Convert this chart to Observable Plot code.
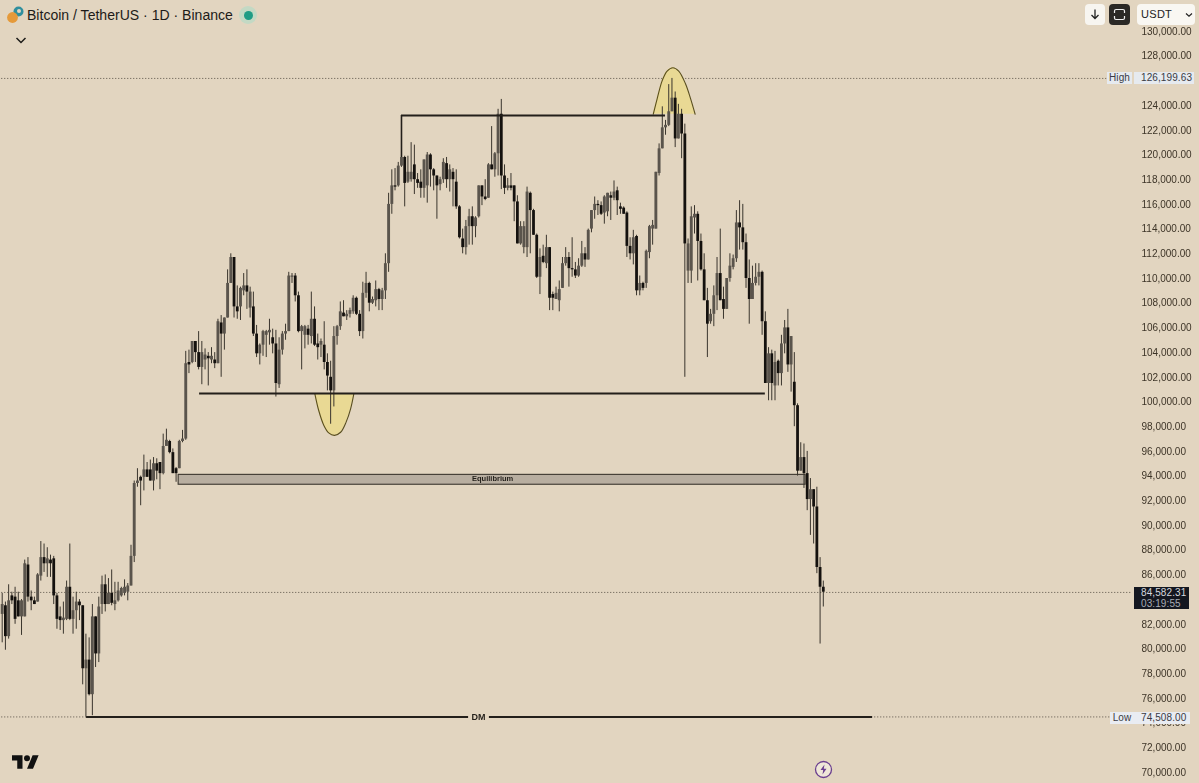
<!DOCTYPE html>
<html><head><meta charset="utf-8">
<script src="https://cdn.jsdelivr.net/npm/d3@7"></script>
<script src="https://cdn.jsdelivr.net/npm/@observablehq/plot@0.6"></script>
<style>
html,body{margin:0;padding:0;background:#e2d5c0;width:1199px;height:783px;overflow:hidden;font-family:"Liberation Sans",sans-serif}
#wrap{position:relative;width:1199px;height:783px}
#chart svg{display:block;filter:blur(.4px)}
.ui{position:absolute;box-sizing:border-box}
.tag{font-size:10px;line-height:12px;height:12px;color:#3a3a44;letter-spacing:.1px}
</style></head><body>
<div id="wrap"><div id="chart"></div>
<svg class="ui" style="left:6px;top:5px" width="20" height="20" viewBox="0 0 20 20"><circle cx="12.5" cy="6.5" r="5" fill="#2f8f9e"/><circle cx="6.5" cy="12.5" r="5.4" fill="#e59a3a"/><circle cx="13" cy="6" r="2" fill="#e2d5c0"/></svg>
<div class="ui" style="left:27px;top:6px;font-size:14.05px;line-height:18px;color:#1d1b18;white-space:nowrap">Bitcoin / TetherUS · 1D · Binance</div>
<div class="ui" style="left:239px;top:6px;width:18px;height:18px;border-radius:9px;background:#c3d9c4"></div>
<div class="ui" style="left:244px;top:11px;width:9px;height:9px;border-radius:5px;background:#1f9c85"></div>
<svg class="ui" style="left:15px;top:36px" width="12" height="9"><path d="M1.5 2 L6 6.5 L10.5 2" fill="none" stroke="#1d1b18" stroke-width="1.5"/></svg>
<div class="ui" style="left:1085px;top:4px;width:20px;height:21px;border-radius:4px;background:#f7f5f0"></div>
<svg class="ui" style="left:1089px;top:8px" width="12" height="13"><path d="M6 1.5V10M2.5 7L6 10.5L9.5 7" fill="none" stroke="#222" stroke-width="1.3"/></svg>
<div class="ui" style="left:1109px;top:4px;width:21px;height:21px;border-radius:4px;background:#2b2926"></div>
<svg class="ui" style="left:1113px;top:8px" width="13" height="13"><path d="M1.5 5V3Q1.5 1.5 3 1.5H10Q11.500 1.5 11.500 3V5M1.5 8V10Q1.5 11.500 3 11.500H10Q11.500 11.500 11.500 10V8" fill="none" stroke="#eee" stroke-width="1.2"/></svg>
<div class="ui" style="left:1137px;top:4px;width:58px;height:21px;border-radius:4px;background:#f9f7f2;font-size:11px;line-height:21px;padding-left:4px;color:#222;letter-spacing:.3px">USDT</div>
<svg class="ui" style="left:1185px;top:12px" width="8" height="6"><path d="M1 1.500L4 4.200L7 1.500" fill="none" stroke="#222" stroke-width="1.2"/></svg>
<div class="ui tag" style="left:1107px;top:72px;width:25px;background:#e6eaef;text-align:center">High</div>
<div class="ui tag" style="left:1134px;top:72px;width:60px;background:#e6eaef;padding-left:7px">126,199.63</div>
<div class="ui tag" style="left:1110px;top:712px;width:24px;background:#e9ecf2;text-align:center">Low</div>
<div class="ui tag" style="left:1134px;top:712px;width:56px;background:#e9ecf2;padding-left:7px">74,508.00</div>
<div class="ui" style="left:1134px;top:587px;width:55px;height:22px;background:#141720;color:#d5d8de;font-size:10px;line-height:11px;padding-left:7px;letter-spacing:.1px">84,582.31<br><span style="color:#a8acb5">03:19:55</span></div>
<svg class="ui" style="left:12px;top:752px" width="27" height="17" viewBox="0 0 36 22"><path d="M14 22H7V11H0V4h14v18zM28 22h-8l7.500-18h8L28 22z" fill="#111"/><circle cx="20" cy="8" r="4" fill="#111"/></svg>
<svg class="ui" style="left:814px;top:760px" width="19" height="19" viewBox="0 0 19 19"><circle cx="9.500" cy="9.500" r="8" fill="#efe7d8" stroke="#6b3f8f" stroke-width="1.3"/><path d="M10.500 4.500L6.500 10H9.200L8.500 14.500L12.500 8.700H9.800z" fill="#6b3f8f"/></svg>
</div>
<script>
const highs=[84.5,83.8,85.2,84.6,85,84.6,84,87.2,87.4,84.7,
84.2,86.1,88.7,88.5,88.2,87.6,87.5,84.5,83.4,83.8,
85.5,88.5,84.2,84.6,84,83.5,81.2,80.9,83.6,82.6,
84.2,85.9,86,85.7,86.4,85.4,85.4,85,85.6,85.3,
88.4,93.6,94.6,94,95.7,95.1,95.3,95.5,95.4,95.1,
97.4,97.8,96.9,96.2,94.7,96.9,97.7,104.1,104.2,104.9,
104.9,105.7,104.9,104.3,104,104.4,104,106.7,107,106.8,
110.7,112,111.7,109.4,109.3,110.4,110.7,109.3,108.9,106.2,
104.7,105.8,105.8,106.7,105.9,105.8,105.2,105.7,106.3,110.5,
110.4,110.4,108.9,106.2,106.2,106.2,108.9,107.7,105.5,105.1,
106.5,103.9,103.3,106.1,106.2,108.1,108.2,107.4,107.6,108.6,
108.5,107.4,109.7,110.5,109.7,108.5,109.8,109.2,109.2,112,
116.9,118.8,118.9,119.4,120,119.9,119.9,121,120.8,118.5,
118.8,119.6,120.2,120.1,118.9,118.3,118.2,119.7,119.8,119.2,
118.9,118.8,115.9,114,114.7,115.6,115.8,115,117.5,117.5,
118,119.3,122.3,120.2,123.7,124.5,119.2,118.1,118.5,117.5,
116.7,114.6,114.6,117.4,117,115.6,113.6,112.4,112.7,113.5,
112.5,108.9,109.3,109.8,111.7,112.5,112.1,113.3,111.3,111.6,
113,112.5,114,115.5,116.6,116.3,116.2,116.7,116.9,117,
117.9,117.4,116.1,115.8,115.4,113.3,113.9,113.5,110.2,109.7,
112.3,114.3,114.7,118.6,120.9,123.9,122.8,125.7,126.2,125.1,
124.1,123.7,122.5,113.2,115.8,115.9,115.4,113.6,112,109.2,
107.5,109.4,111.7,114,109.3,110,112,111.9,115.5,116.3,
116,113.6,111.5,111,111.2,111.2,110.6,107.3,104.4,104.2,
104.1,103.4,105.4,106.6,107.5,105.3,104,99.85,96.7,96.6,
96,93.8,92.9,93.1,87.4,85.5];
const lows=[80.5,79.9,80.8,83.6,82,82.6,81.1,82.6,83.8,83.1,
83.6,83.8,85.5,86.2,85.8,85.8,83.6,81.6,81.5,81.2,
82.3,82.3,81.2,81.6,82.3,77.1,74.5,76.2,74.6,78.5,
78.9,82.8,83,83.6,83.5,83.1,83.8,84.2,84.3,83.9,
85.1,87,93.1,91.6,92.8,93.9,93.6,92.8,93.7,92.9,
94.1,96.5,95.8,94.2,93.5,94.6,96.7,96.9,102.3,103.1,
103.2,102.6,101.4,102.6,101.3,103.1,102.7,103.1,102,104.2,
106.8,109.6,106.8,106.7,106.6,108.6,107.5,106.8,105.3,103.6,
103,103.7,103.6,104.6,103.9,100.4,101.1,103.8,105,105.7,
109.6,108.1,105.6,102.6,104.3,104.6,104.7,104.5,103.4,103.6,
102.6,100.9,98.2,99.6,104.6,105.8,106.9,106.6,106.8,107.1,
107,105.3,105.1,108.4,107.3,107.9,107.7,107.4,107.4,108.3,
110.5,115.2,117.1,117.4,119,115.8,117.7,117.8,116.8,117.3,
116.5,116.5,116.1,117.4,117.1,114.8,117.1,117.7,117.3,117,
115.8,115.6,113.2,112,111.9,112.7,112.7,113.3,114.9,115.9,
116.3,116.5,118.8,118.2,118.3,117.2,116.8,117.1,117.1,114.6,
112.8,112.7,112,111.7,112,113.5,110,108.7,111.2,110.8,
107.4,107.4,108.4,107.3,109.2,111,109.3,110.1,110,110.1,
110.9,110.9,111.5,113.7,114.8,115.1,115.1,114.4,115,114.7,
116.3,115.1,115.2,115.2,111.7,111.5,111.1,108.6,108.6,109,
109.2,111.6,112.7,114,118.3,120.5,121.6,122.3,123.5,120.6,
121.3,119.7,102,109.6,109.6,113.6,109.8,110.6,108.2,103.6,
106.3,106.1,107.4,108.2,106.7,107.5,109.7,110.7,111.3,112.3,
112.3,109.2,106.3,108.4,109.4,109.4,105.4,101.5,100.1,100.1,
100.1,101.3,101.3,103.9,102.4,100.8,98,94,94.4,93,
91.2,89.2,88.5,86.1,80.4,83.4];
const opens=[82.8,83.5,81,84.3,84.2,83.9,82.6,82.6,86.8,84.2,
83.9,83.8,85.9,87.4,86.9,87.2,87.3,84.3,82.6,82.3,
82.4,85,82.4,83.1,83.8,83.5,78.4,79.1,76.3,82.6,
79.6,83.6,85.2,83.6,84.5,83.6,83.9,84.3,84.5,84.6,
85.1,87.5,93.4,93.9,93.9,94.5,94.5,93.6,95,95.1,
94.2,96.4,96.8,95.9,94.6,94.6,96.8,97,103.2,103.2,
104.9,104,102.8,103.4,103.7,103.4,103.4,103.1,106.4,105.5,
106.8,109.6,111.7,107.7,107.7,109,109.4,107.6,107.7,105.5,
103.9,104.6,105.4,105.6,105.2,104.7,101.4,104.2,105.5,105.7,
110.1,110.2,108.6,105.7,105.4,105.9,105.3,106.7,104.7,104.6,
104.6,103.2,102,100.9,105.3,106.1,107.2,106.9,107.1,107.3,
108.4,107.1,105.7,108.8,109.6,108,108.2,109.1,108.3,109,
111.2,116,117.5,117.5,119.1,119.8,117.8,118,119.2,118,
117.8,117.3,117.5,120,118.8,118.3,117.6,118,119.3,118,
118.6,117.8,115.8,113.2,112.5,114.2,115,114.2,115,117.5,
116.6,116.5,119.2,118.8,120.1,123.3,118.3,117.3,117.5,117.5,
116.2,112.8,112.5,112.5,116.9,115.5,113.5,110.1,111.8,111.2,
112.5,108.7,108.3,108.2,109.2,111.2,111.7,110.8,110.7,110.2,
111,112,111.5,114,115.5,116,115.9,115.3,115.4,116.7,
116.5,117.1,115.8,115.7,115.3,112.6,112,113.4,109,109.6,
109.6,112.1,114,114,118.5,120.5,122.2,122.4,123.5,124.6,
121.3,123.3,121.7,110.6,110.6,114.9,115.2,113,110.7,108.2,
106.5,107.1,108.6,110.4,108.3,107.5,110,110.9,111.6,114.5,
114.1,112.9,110,108.3,109.6,110.1,110.5,106.5,101.5,103.9,
101.3,103.3,102.3,104.7,106,103,101.6,99.7,94.4,95.5,
94.2,92.1,92.9,91.5,86.6,85];
const closes=[83.6,81,83.9,83.9,82.4,82.6,83.9,86.9,84.2,83.9,
83.6,86,87.4,86.9,87.3,86.9,84.3,82.4,82.3,82.5,
85,82.4,83.1,83.8,83.5,78.4,79.1,76.3,82.6,79.6,
83.4,85.2,83.6,84.5,83.7,83.9,84.7,84.9,85,85.1,
87.5,93.4,93.6,93.6,94.5,93.9,93.6,95,94.4,94.2,
96.4,96.9,95.9,94.2,94.2,96.8,97,103.1,103,104.9,
104,102.8,104,103.8,103.5,103.7,103.1,106.5,105.5,106.8,
109.6,111.7,107.7,107.3,109.2,109.4,108.9,108.9,105.5,103.9,
104.6,105.7,105.7,105.8,104.7,101.5,104.2,105.5,105.7,110.2,
110.2,108.6,105.7,106.1,106.1,105.4,106.7,104.6,104.4,104.9,
103.2,102.1,100.9,105.3,106.1,107.3,106.9,107.1,107.4,108.4,
107.1,105.7,108.8,109.6,108,108.3,109.1,108.3,109,111.2,
116,117.5,117.4,119.1,119.8,117.7,118.6,118.6,118,117.7,
117.3,119.6,120,118.8,118.3,117.5,118,119.4,118,118.8,
118,115.8,113.3,112.5,114.2,115,114.2,114.9,117.5,116.6,
116.4,119.2,118.8,120.1,123.3,118.3,117.3,117.5,117.3,116.2,
112.8,114.2,114.2,117,115.5,113.5,110.1,111.7,111.3,112.5,
108.4,108.4,108.8,109.1,111.2,111.7,110.8,110.7,110.2,111,
112,111.5,113.9,115.5,116,115.9,115.2,116.6,116.9,116.5,
117,116.3,115.6,115.2,112.6,112,113.3,109,109.6,109.2,
112.2,114.2,114.3,118.6,120.5,122.2,122.4,123.5,124.6,121.3,
123.3,121.7,112.8,112.8,115,115.2,113,110.7,108.2,106.3,
107.1,108.6,110.4,108.2,107.5,110,111,111.6,114.5,114.1,
112.9,110,108.3,109.6,110.1,110.5,106.5,101.5,103.9,101.5,
103.2,102.3,104.7,106,103,105.3,99.7,94.4,95.5,94.2,
92.1,92.9,91.5,86.6,85,84.6];

const ticks=d3.range(70,131,2).filter(t=>t!==126&&t!==84);
const highLevel=126.2, lowLevel=74.5, lastLevel=84.58;
const highRuleEnd=343, lowRuleEnd=344, lastRuleEnd=351;
const topLine={x1:124,x2:206,y:123.2,base:119.8};
const midLine={x1:61.3,x2:237,y:100.68};
const dmLine={x1:26.2,x2:270.3,y:74.5,label:"DM",labelAt:147.9};
const equilibrium={x1:54.8,x2:249.5,y1:93.3,y2:94.1,label:"Equilibrium",labelAt:152.3};
const topArcX=[202.2,203.4,205,206.5,208.3,210.1,212.2,213.8,215.2];
const topArcY=[123.3,124.55,126.04,126.8,127.07,126.8,125.77,124.55,123.3];
const lowArcX=[97.1,98.3,99.9,101.4,103.2,105.1,106.8,108.2,109.2];
const lowArcY=[100.66,99.31,98.1,97.5,97.3,97.55,98.37,99.45,100.66];

const candles=highs.map((h,i)=>({i,h,l:lows[i],o:opens[i],c:closes[i]}));
const up=candles.filter(d=>d.c>=d.o), down=candles.filter(d=>d.c<d.o);
const arc=(xs,ys,base)=>xs.map((x,k)=>({x,y:ys[k],base}));
const topArc=arc(topArcX,topArcY,123.3), lowArc=arc(lowArcX,lowArcY,100.66);
const ink="#231f1a", arcFill="#e9d994", arcStroke="#5a4f1e";

const plot=Plot.plot({
 width:1199,height:783,marginLeft:0,marginRight:58,marginTop:0,marginBottom:0,
 style:{background:"#e2d5c0",fontFamily:"'Liberation Sans',sans-serif",fontSize:"10px",overflow:"hidden"},
 x:{type:"linear",domain:[0,255],range:[1.7,822.8],axis:null},
 y:{type:"linear",domain:[70,130],range:[772,31],axis:null},
 marks:[
  Plot.axisY(ticks,{anchor:"right",tickSize:0,tickPadding:0,tickFormat:d=>d3.format(",.2f")(d*1000),fill:"#3d3427",fontSize:10,textStyle:null}),
  Plot.ruleY([{y:highLevel,e:highRuleEnd},{y:lowLevel,e:lowRuleEnd},{y:lastLevel,e:lastRuleEnd}],{y:"y",x1:-2,x2:"e",stroke:"#3a342b",strokeWidth:.8,strokeDasharray:"1,2"}),
  Plot.areaY(topArc,{x:"x",y1:"base",y2:"y",curve:"catmull-rom",fill:arcFill}),
  Plot.line(topArc,{x:"x",y:"y",curve:"catmull-rom",stroke:arcStroke,strokeWidth:1.1}),
  Plot.areaY(lowArc,{x:"x",y1:"base",y2:"y",curve:"catmull-rom",fill:arcFill}),
  Plot.line(lowArc,{x:"x",y:"y",curve:"catmull-rom",stroke:arcStroke,strokeWidth:1.1}),
  Plot.rect([equilibrium],{x1:"x1",x2:"x2",y1:"y1",y2:"y2",fill:"#b8aea0",stroke:"#3b362e",strokeWidth:1.1}),
  Plot.ruleX(candles,{x:"i",y1:"l",y2:"h",stroke:"#3a352d",strokeWidth:1}),
  Plot.ruleX(down,{x:"i",y1:"o",y2:"c",stroke:"#14110e",strokeWidth:2.8}),
  Plot.ruleX(up,{x:"i",y1:"o",y2:"c",stroke:"#5a544c",strokeWidth:2.9}),
  Plot.ruleY([topLine,midLine],{y:"y",x1:"x1",x2:"x2",stroke:ink,strokeWidth:2}),
  Plot.ruleX([topLine],{x:"x1",y1:"base",y2:"y",stroke:ink,strokeWidth:1.6}),
  Plot.ruleY([dmLine],{y:"y",x1:"x1",x2:"x2",stroke:ink,strokeWidth:2}),
  Plot.text([dmLine],{x:"labelAt",y:"y",text:"label",fontSize:9,fontWeight:"bold",fill:ink,stroke:"#e2d5c0",strokeWidth:8,paintOrder:"stroke"}),
  Plot.text([equilibrium],{x:"labelAt",y:d=>(d.y1+d.y2)/2,dy:-1,text:"label",fontSize:7.5,fontWeight:"bold",fill:ink})
 ]
});
document.getElementById("chart").appendChild(plot);
</script>
</body></html>
